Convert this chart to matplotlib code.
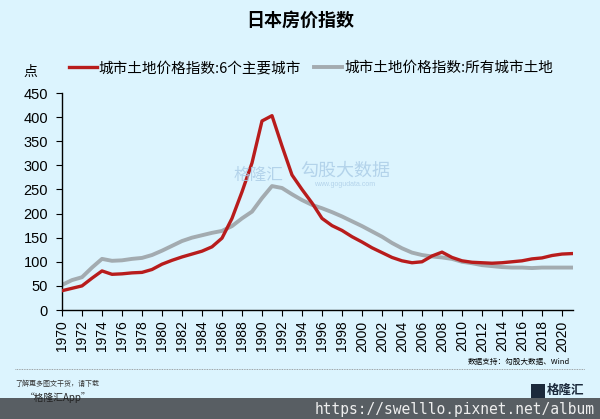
import matplotlib
matplotlib.use("Agg")
import matplotlib.pyplot as plt
from matplotlib.patches import Rectangle

BG = "#dcf4fe"
RED = "#b81c1c"
GRAY = "#a3abb0"
CJK = ["Noto Sans CJK SC", "DejaVu Sans"]
plt.rcParams["font.family"] = ["Liberation Sans", "Noto Sans CJK SC", "DejaVu Sans"]

years = list(range(1970, 2022))
six_cities = [40, 45, 50, 66, 81, 74, 75, 77, 78, 84,
              95, 103, 110, 116, 122, 131, 149, 190, 245, 305,
              392, 403, 340, 280, 250, 222, 190, 175, 165, 152,
              141, 129, 119, 109, 102, 98, 100, 112, 120, 109,
              102, 99, 98, 97, 98, 100, 102, 106, 108, 113,
              116, 117]
all_cities = [52, 62, 68, 88, 106, 102, 103, 106, 108, 114,
              123, 133, 143, 150, 155, 160, 164, 174, 190, 204,
              232, 257, 253, 240, 228, 218, 211, 203, 194, 184,
              174, 163, 152, 139, 128, 119, 114, 111, 109, 106,
              100, 97, 93, 91, 89, 88, 88, 87, 88, 88,
              88, 88]
label_six = "城市土地价格指数:6个主要城市"
label_all = "城市土地价格指数:所有城市土地"

fig = plt.figure(figsize=(6.0, 4.19), dpi=100)
fig.patch.set_facecolor(BG)
W, H = 600, 419
ax = fig.add_axes([62 / W, 1 - 310 / H, (573 - 62) / W, (310 - 93) / H])
ax.set_facecolor(BG)

ax.plot(years, six_cities, color=RED, lw=2.4, label=label_six, zorder=3)
ax.plot(years, all_cities, color=GRAY, lw=2.8, label=label_all, zorder=2)

ax.set_xlim(1970, 2021.1)
ax.set_ylim(0, 450)
ax.set_yticks(range(0, 451, 50))
ax.set_xticks(range(1970, 2021, 2))
ax.tick_params(axis="x", labelrotation=90, labelsize=10, length=4, direction="out")
ax.tick_params(axis="y", labelsize=10.5, length=4, pad=6, direction="out")
for s in ("top", "right"):
    ax.spines[s].set_visible(False)
for s in ("left", "bottom"):
    ax.spines[s].set_color("black")
    ax.spines[s].set_linewidth(1.0)

# watermark
fig.text(258 / W, 1 - 175 / H, "格隆汇", family=CJK, fontsize=12,
         color="#a9cbe6", alpha=0.8, ha="center", va="center")
fig.text(345 / W, 1 - 171 / H, "勾股大数据", family=CJK, fontsize=13,
         color="#a9cbe6", alpha=0.8, ha="center", va="center")
fig.text(345 / W, 1 - 184 / H, "www.gogudata.com", fontsize=5,
         color="#a9cbe6", alpha=0.8, ha="center", va="center")

fig.text(0.5, 1 - 20 / H, "日本房价指数", family=CJK, fontsize=13,
         fontweight="bold", ha="center", va="center")
fig.text(30 / W, 1 - 72 / H, "点", family=CJK, fontsize=10,
         ha="center", va="center")
fig.legend(loc="center", bbox_to_anchor=(311 / W, 1 - 68 / H), ncol=2,
           frameon=False, prop={"family": CJK, "size": 10.5, "weight": "light"},
           handlelength=1.9, handletextpad=0.15, columnspacing=0.9)

fig.text(570 / W, 1 - 362 / H, "数据支持：勾股大数据、Wind", family=CJK,
         fontsize=5.5, ha="right", va="center")
fig.add_artist(plt.Line2D([15 / W, 585 / W], [1 - 369 / H] * 2,
                          color="#888888", lw=0.6, ls=(0, (1, 1))))
fig.text(15 / W, 1 - 384 / H, "了解更多图文干货，请下载", family=CJK,
         fontsize=5, style="italic", ha="left", va="center", color="#333333")

fig.add_artist(Rectangle((0, 0), 1, 21 / H, transform=fig.transFigure,
                         facecolor="#585e63", edgecolor="none"))
fig.text(25 / W, 1 - 398 / H, "“格隆汇App”", family=CJK, fontsize=7,
         style="italic", ha="left", va="center", color="#222222")
fig.text(584 / W, 1 - 390 / H, "格隆汇", family=CJK, fontsize=9,
         fontweight="bold", ha="right", va="center", color="#1c2a3c")
fig.add_artist(Rectangle((531 / W, 1 - 398 / H), 14 / W, 14 / H,
                         transform=fig.transFigure, facecolor="#1c2a3c",
                         edgecolor="none"))
fig.text(595 / W, 1 - 409 / H, "https://swelllo.pixnet.net/album",
         family="DejaVu Sans Mono", fontsize=10.5, ha="right", va="center",
         color="#eeeeee")

fig.savefig("out.png", dpi=100, facecolor=BG)
